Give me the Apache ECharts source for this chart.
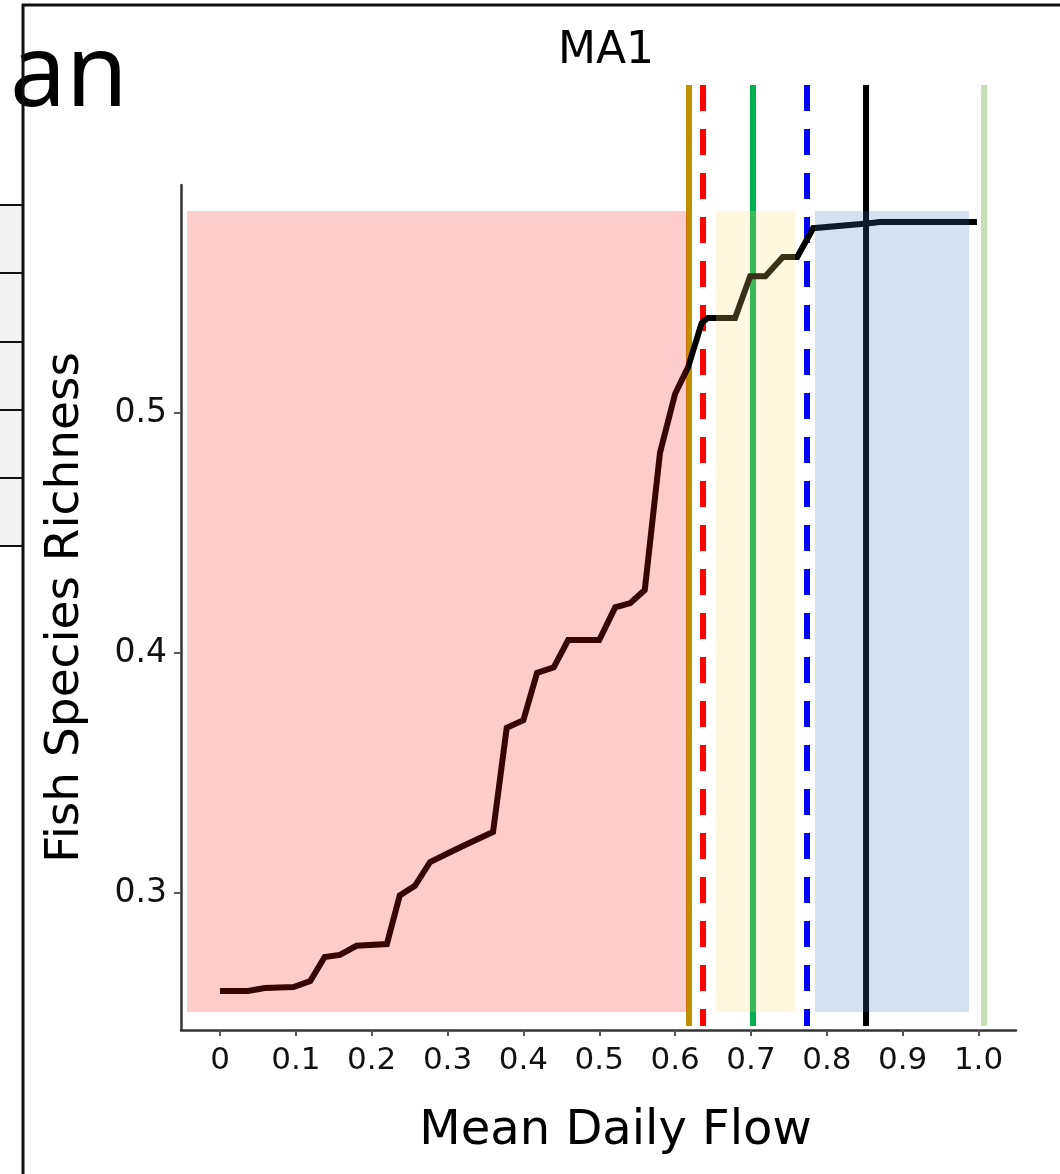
<!DOCTYPE html>
<html>
<head>
<meta charset="utf-8">
<script src="https://cdn.jsdelivr.net/npm/echarts@6/dist/echarts.min.js"></script>
<style>
  html, body { margin: 0; padding: 0; background: #fff; }
  #main { width: 1060px; height: 1174px; }
</style>
</head>
<body>
<div id="main"></div>
<script>
// curve: fish species richness vs mean daily flow
var flowX = [0, 0.037, 0.059, 0.097, 0.119, 0.138, 0.158, 0.18, 0.22, 0.237, 0.257, 0.277, 0.31, 0.33,
             0.36, 0.378, 0.4, 0.418, 0.44, 0.459, 0.5, 0.521, 0.541, 0.56, 0.58, 0.6, 0.617, 0.635,
             0.643, 0.679, 0.699, 0.719, 0.742, 0.761, 0.782, 0.853, 0.87, 0.998];
var richness = [0.2592, 0.2592, 0.2604, 0.2608, 0.2633, 0.2733, 0.2742, 0.278, 0.2787, 0.299, 0.303, 0.3129, 0.318, 0.321,
                0.3254, 0.3688, 0.372, 0.3917, 0.394, 0.4054, 0.4054, 0.419, 0.4208, 0.4262, 0.4833, 0.508, 0.519, 0.5375,
                0.5396, 0.5396, 0.557, 0.557, 0.565, 0.565, 0.577, 0.579, 0.5796, 0.5796];

// shaded zones
var zoneStart = [-0.0435, 0.6539, 0.7844];
var zoneEnd = [0.616, 0.7581, 0.9875];
var zoneLow = 0.2504;
var zoneHigh = 0.5842;
var zoneColor = ['rgba(255,23,23,0.22)', 'rgba(255,218,109,0.22)', 'rgba(55,118,190,0.22)'];

// vertical reference lines
var vlineX = [0.6183, 0.6368, 0.7027, 0.7739, 0.8517, 1.0073];
var vlineColor = ['#bf9000', '#ff0000', '#00b050', '#0000ff', '#000000', '#c5e0b4'];
var vlineDashed = [false, true, false, true, false, false];
var vlineTop = 0.6367;
var vlineBottom = 0.2446;

// ticks
var xTicks = [0, 0.1, 0.2, 0.3, 0.4, 0.5, 0.6, 0.7, 0.8, 0.9, 1.0];
var xTickLabels = ['0', '0.1', '0.2', '0.3', '0.4', '0.5', '0.6', '0.7', '0.8', '0.9', '1.0'];
var yTicks = [0.3, 0.4, 0.5];
var yTickLabels = ['0.3', '0.4', '0.5'];

var xMin = -0.0514, xMax = 1.0494;
var yMin = 0.2429, yMax = 0.595, yMax2 = 0.63875;

var FONT = 'DejaVu Sans';

function nearestLabel(v, ticks, labels) {
    var best = 0;
    for (var i = 1; i < ticks.length; i++) {
        if (Math.abs(ticks[i] - v) < Math.abs(ticks[best] - v)) best = i;
    }
    return labels[best];
}

var myChart = echarts.init(document.getElementById('main'), null, { renderer: 'canvas' });

var curveData = flowX.map(function (x, i) { return [x, richness[i]]; });
var zoneData = zoneStart.map(function (x, i) { return [x, zoneEnd[i], zoneLow, zoneHigh, i]; });

var series = [];

vlineX.forEach(function (x, i) {
    series.push({
        type: 'line',
        xAxisIndex: 1,
        yAxisIndex: 1,
        z: 2,
        silent: true,
        showSymbol: false,
        data: [[x, vlineTop], [x, vlineBottom]],
        lineStyle: {
            color: vlineColor[i],
            width: 6,
            type: vlineDashed[i] ? [26, 18] : 'solid',
            cap: 'butt'
        }
    });
});

series.push({
    type: 'line',
    xAxisIndex: 0,
    yAxisIndex: 0,
    z: 3,
    silent: true,
    showSymbol: false,
    data: curveData,
    lineStyle: { color: '#000', width: 6, join: 'miter' }
});

series.push({
    type: 'custom',
    xAxisIndex: 0,
    yAxisIndex: 0,
    z: 5,
    silent: true,
    data: zoneData,
    renderItem: function (params, api) {
        var p0 = api.coord([api.value(0), api.value(3)]);
        var p1 = api.coord([api.value(1), api.value(2)]);
        return {
            type: 'rect',
            shape: { x: p0[0], y: p0[1], width: p1[0] - p0[0], height: p1[1] - p0[1] },
            style: { fill: zoneColor[api.value(4)] }
        };
    }
});

var option = {
    animation: false,
    backgroundColor: '#fff',
    title: {
        text: 'MA1',
        left: 601,
        top: 25,
        textAlign: 'center',
        textStyle: { fontFamily: FONT, fontSize: 44, fontWeight: 'normal', color: '#000' }
    },
    grid: [
        { left: 181, top: 185, width: 835, height: 845, outerBoundsMode: 'none', containLabel: false },
        { left: 181, top: 80, width: 835, height: 950, outerBoundsMode: 'none', containLabel: false }
    ],
    xAxis: [
        {
            type: 'value',
            gridIndex: 0,
            min: xMin,
            max: xMax,
            name: 'Mean Daily Flow',
            nameLocation: 'middle',
            nameGap: 78,
            nameTextStyle: { fontFamily: FONT, fontSize: 48, color: '#000', padding: [0, 0, 0, 34] },
            axisLine: { show: true, onZero: false, lineStyle: { color: '#333', width: 2.5 } },
            axisTick: { show: true, customValues: xTicks, length: 6, lineStyle: { color: '#555', width: 2 } },
            axisLabel: {
                customValues: xTicks,
                margin: 15,
                fontFamily: FONT,
                fontSize: 31,
                color: '#111',
                formatter: function (v) { return nearestLabel(v, xTicks, xTickLabels); }
            },
            splitLine: { show: false }
        },
        {
            type: 'value',
            gridIndex: 1,
            min: xMin,
            max: xMax,
            show: false
        }
    ],
    yAxis: [
        {
            type: 'value',
            gridIndex: 0,
            min: yMin,
            max: yMax,
            name: 'Fish Species Richness',
            nameLocation: 'middle',
            nameGap: 92,
            nameTextStyle: { fontFamily: FONT, fontSize: 47, color: '#000' },
            axisLine: { show: true, onZero: false, lineStyle: { color: '#333', width: 2.5 } },
            axisTick: { show: true, customValues: yTicks, length: 7, lineStyle: { color: '#555', width: 2 } },
            axisLabel: {
                customValues: yTicks,
                margin: 14,
                fontFamily: FONT,
                fontSize: 33,
                color: '#111',
                formatter: function (v) { return nearestLabel(v, yTicks, yTickLabels); }
            },
            splitLine: { show: false }
        },
        {
            type: 'value',
            gridIndex: 1,
            min: yMin,
            max: yMax2,
            show: false
        }
    ],
    graphic: [
        // slide fragments around the figure
        { type: 'rect', z: 0, shape: { x: 0, y: 205, width: 22, height: 341 }, style: { fill: '#f2f2f2' } },
        { type: 'line', z: 1, shape: { x1: 0, y1: 205, x2: 22, y2: 205 }, style: { stroke: '#111', lineWidth: 2 } },
        { type: 'line', z: 1, shape: { x1: 0, y1: 273, x2: 22, y2: 273 }, style: { stroke: '#111', lineWidth: 2 } },
        { type: 'line', z: 1, shape: { x1: 0, y1: 342, x2: 22, y2: 342 }, style: { stroke: '#111', lineWidth: 2 } },
        { type: 'line', z: 1, shape: { x1: 0, y1: 410, x2: 22, y2: 410 }, style: { stroke: '#111', lineWidth: 2 } },
        { type: 'line', z: 1, shape: { x1: 0, y1: 478, x2: 22, y2: 478 }, style: { stroke: '#111', lineWidth: 2 } },
        { type: 'line', z: 1, shape: { x1: 0, y1: 546, x2: 22, y2: 546 }, style: { stroke: '#111', lineWidth: 2 } },
        { type: 'text', z: 10, style: { text: 'an', x: 10, y: 78, align: 'left', verticalAlign: 'middle', font: '100px "Noto Sans"', fill: '#000' } },
        { type: 'line', z: 11, shape: { x1: 22, y1: 5, x2: 1060, y2: 5 }, style: { stroke: '#111', lineWidth: 3 } },
        { type: 'line', z: 11, shape: { x1: 23, y1: 4, x2: 23, y2: 1174 }, style: { stroke: '#111', lineWidth: 3 } }
    ],
    series: series
};

myChart.setOption(option);
</script>
</body>
</html>
